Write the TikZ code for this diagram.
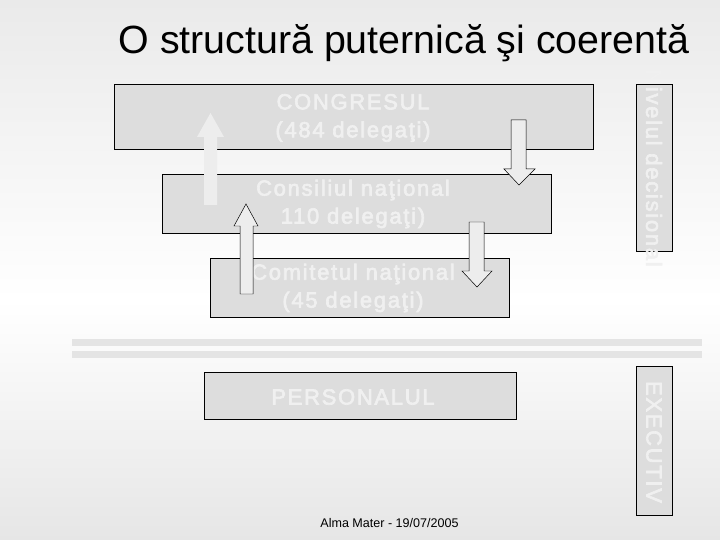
\documentclass[tikz,border=0pt]{standalone}
\usepackage{fontspec}
\setmainfont{Liberation Sans}
\newfontfamily\boxfont[LetterSpace=8,FakeBold=3]{Liberation Sans}
\definecolor{boxgray}{HTML}{DDDDDD}
\definecolor{labelgray}{HTML}{F0F0F0}
\definecolor{bargray}{HTML}{E4E4E4}
\definecolor{arrowgray}{HTML}{EDEDED}
\definecolor{bgtop}{HTML}{EAEAEA}
\definecolor{bgbottom}{HTML}{E6E6E6}
\begin{document}
\begin{tikzpicture}[x=1bp, y=-1bp,
    box/.style={draw, line width=0.9pt, fill=boxgray, inner sep=0pt},
    boxlabel/.style={text=labelgray, font=\boxfont\fontsize{22}{28}\selectfont, align=center},
    blockarrow/.style={draw, line width=0.5pt, fill=arrowgray}]
  \useasboundingbox (0,0) rectangle (720,540);
  \shade [top color=bgtop, bottom color=white] (0,0) rectangle (720,300);
  \shade [top color=white, bottom color=bgbottom] (0,300) rectangle (720,540);

  \node [anchor=base west, font=\fontsize{39.5}{44}\selectfont] (title) at (115,54) {O structură puternică şi coerentă};

  \fill [bargray] (72,339) rectangle (702,346);
  \fill [bargray] (72,351) rectangle (702,358);

  \node [box, minimum width=480, minimum height=66] (congres) at (354,117) {};
  \node [box, minimum width=390, minimum height=60] (consiliu) at (357,204) {};
  \node [box, minimum width=300, minimum height=60] (comitet) at (360,288) {};
  \node [box, minimum width=313, minimum height=48] (personal) at (360.5,396) {};
  \node [box, minimum width=37, minimum height=168] (nivel) at (654.5,168) {};
  \node [box, minimum width=37, minimum height=150] (executiv) at (654.5,441) {};

  \node [boxlabel] (congreslbl) at (353,118) {CONGRESUL\\(484 delegaţi)};
  \node [boxlabel] (consiliulbl) at (353,204) {Consiliul naţional\\110 delegaţi)};
  \node [boxlabel] (comitetlbl) at (353,288) {Comitetul naţional\\(45 delegaţi)};
  \node [boxlabel] (personallbl) at (353,397) {PERSONALUL};
  \node [boxlabel, rotate=-90] (nivellbl) at (654,168) {Nivelul decisional};
  \node [boxlabel, rotate=-90] (executivlbl) at (654,442) {EXECUTIV};

  \fill [arrowgray] (204,205) -- (204,137) -- (197,137) -- (210.5,113) -- (224,137) -- (217,137) -- (217,205) -- cycle;
  \draw [blockarrow] (240,294) -- (240,226) -- (234,226) -- (246,204) -- (258,226) -- (253,226) -- (253,294) -- cycle;
  \draw [blockarrow] (511,120) -- (526,120) -- (526,169) -- (535,169) -- (519,185) -- (504,169) -- (511,169) -- cycle;
  \draw [blockarrow] (469,222) -- (484,222) -- (484,271) -- (492,271) -- (477,287) -- (462,271) -- (469,271) -- cycle;

  \node [anchor=base, font=\fontsize{12.6}{14}\selectfont] (footer) at (389.5,527) {Alma Mater - 19/07/2005};
\end{tikzpicture}
\end{document}
